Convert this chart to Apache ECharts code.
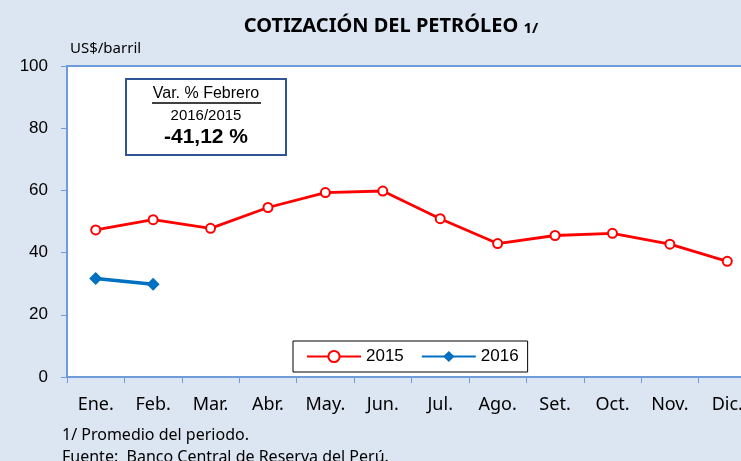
<!DOCTYPE html>
<html>
<head>
<meta charset="utf-8">
<script src="https://cdn.jsdelivr.net/npm/echarts@6/dist/echarts.min.js"></script>
<style>
  html, body { margin: 0; padding: 0; background: #dce6f2; overflow: hidden; }
  /* el gráfico original está cortado a la derecha */
  #chart { width: 756px; height: 461px; }
</style>
</head>
<body>
<div id="chart"></div>
<script>
// meses
const months = ["Ene.", "Feb.", "Mar.", "Abr.", "May.", "Jun.", "Jul.", "Ago.", "Set.", "Oct.", "Nov.", "Dic."];
// US$/barril, promedio del periodo
const values2015 = [47.3, 50.6, 47.8, 54.5, 59.3, 59.8, 50.9, 42.9, 45.5, 46.2, 42.7, 37.2];
const values2016 = [31.7, 29.8];
const yTicks = [0, 20, 40, 60, 80, 100];

const axisBlue = "#6f9bd8";
const chart = echarts.init(document.getElementById("chart"));

const option = {
  backgroundColor: "#dce6f2",
  animation: false,
  title: {
    text: "{a|COTIZACIÓN DEL PETRÓLEO }{b|1/}",
    left: 386,
    textAlign: "center",
    top: 11,
    textStyle: {
      rich: {
        a: { fontFamily: "Noto Sans", fontWeight: "bold", fontSize: 20, color: "#000" },
        b: { fontFamily: "Noto Sans", fontWeight: "bold", fontSize: 15, color: "#000", padding: [5, 0, 0, 0] },
      },
    },
  },
  grid: {
    show: true,
    left: 67,
    top: 66,
    right: 0,
    bottom: 84,
    backgroundColor: "#ffffff",
    borderColor: axisBlue,
    borderWidth: 2,
  },
  legend: {
    left: 293,
    top: 341,
    backgroundColor: "#ffffff",
    borderColor: "#000",
    borderWidth: 1,
    borderRadius: 0,
    padding: [7, 9, 7, 13],
    itemWidth: 54,
    itemHeight: 14,
    itemGap: 17,
    textStyle: { fontFamily: "Liberation Sans", fontSize: 17, color: "#000" },
    data: ["2015", "2016"],
  },
  xAxis: {
    type: "category",
    data: months,
    boundaryGap: true,
    axisLine: { lineStyle: { color: axisBlue, width: 2 } },
    axisTick: { show: true, length: 6, lineStyle: { color: axisBlue } },
    axisLabel: { fontFamily: "Noto Sans", fontSize: 18, color: "#000", margin: 19 },
  },
  yAxis: {
    type: "value",
    min: yTicks[0],
    max: yTicks[yTicks.length - 1],
    interval: 20,
    splitLine: { show: false },
    axisLine: { show: true, lineStyle: { color: axisBlue, width: 2 } },
    axisTick: { show: true, length: 6, lineStyle: { color: axisBlue } },
    axisLabel: { fontFamily: "Liberation Sans", fontSize: 17, color: "#000", margin: 19 },
  },
  series: [
    {
      name: "2015",
      type: "line",
      data: values2015,
      symbol: "circle",
      symbolSize: 9,
      lineStyle: { color: "#ff0000", width: 2.8 },
      itemStyle: { color: "#ffffff", borderColor: "#ff0000", borderWidth: 2 },
    },
    {
      name: "2016",
      type: "line",
      data: values2016,
      symbol: "diamond",
      symbolSize: 13,
      lineStyle: { color: "#0070c0", width: 3.5 },
      itemStyle: { color: "#0070c0" },
    },
  ],
  graphic: [
    {
      type: "text",
      left: 70,
      top: 41,
      style: { text: "US$/barril", font: "15px 'Noto Sans'", fill: "#000" },
    },
    {
      type: "group",
      left: 125,
      top: 78,
      children: [
        {
          type: "rect",
          shape: { x: 0, y: 0, width: 160, height: 76 },
          style: { fill: "#fff", stroke: "#2f5597", lineWidth: 2 },
        },
        {
          type: "text",
          x: 80, y: 7,
          style: { text: "Var. % Febrero", font: "16px 'Liberation Sans'", fill: "#000", align: "center" },
        },
        {
          type: "line",
          shape: { x1: 26, y1: 24, x2: 135, y2: 24 },
          style: { stroke: "#000", lineWidth: 1.5 },
        },
        {
          type: "text",
          x: 80, y: 29,
          style: { text: "2016/2015", font: "15px 'Liberation Sans'", fill: "#000", align: "center" },
        },
        {
          type: "text",
          x: 80, y: 48,
          style: { text: "-41,12 %", font: "bold 21px 'Liberation Sans'", fill: "#000", align: "center" },
        },
      ],
    },
    {
      type: "text",
      left: 62,
      top: 427,
      style: { text: "1/ Promedio del periodo.", font: "16px 'Noto Sans'", fill: "#000" },
    },
    {
      type: "text",
      left: 62,
      top: 449,
      style: { text: "Fuente:  Banco Central de Reserva del Perú.", font: "16px 'Noto Sans'", fill: "#000" },
    },
  ],
};

chart.setOption(option);
</script>
</body>
</html>
